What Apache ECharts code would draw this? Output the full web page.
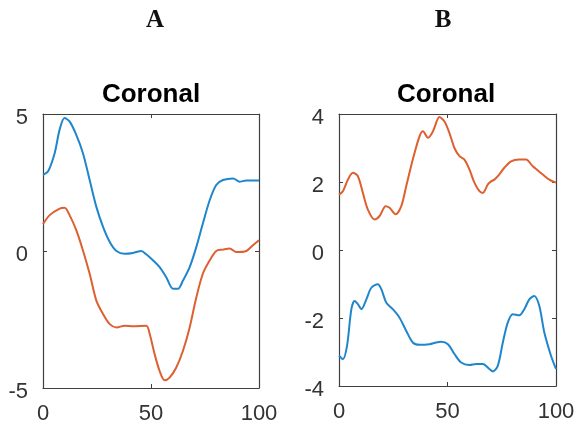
<!DOCTYPE html>
<html>
<head>
<meta charset="utf-8">
<script src="https://cdn.jsdelivr.net/npm/echarts@6/dist/echarts.min.js"></script>
<style>
  html, body { margin: 0; padding: 0; background: #fff; }
  #chart { width: 583px; height: 426px; }
</style>
</head>
<body>
<div id="chart"></div>
<script>
// panel A
const aBlueX = [0, 2.3, 5.4, 7.7, 10, 12.3, 15.4, 18.5, 21.6, 24.7, 27.8, 30.9, 34, 37.8, 41.7, 45.5, 47.8, 50.9, 54, 57, 60.2, 62.5, 64.8, 67.9, 71, 74, 77.2, 80.2, 83.3, 88, 91, 94.1, 100];
const aBlueY = [2.78, 2.9, 3.57, 4.43, 4.85, 4.73, 4.24, 3.57, 2.59, 1.61, 0.88, 0.33, 0, -0.1, -0.07, 0, -0.12, -0.34, -0.59, -0.95, -1.38, -1.38, -1.08, -0.59, 0.15, 1.0, 1.86, 2.41, 2.59, 2.65, 2.53, 2.57, 2.57];
const aOrangeX = [0, 3.1, 7.7, 10, 12.3, 15.4, 18.5, 21.6, 24.7, 27.8, 30.9, 34, 37.8, 41.7, 47.8, 49.4, 51.7, 54, 56.3, 58.6, 61.7, 64.8, 67.9, 71, 74, 77.2, 80.2, 83.3, 86.4, 89.5, 94.1, 97.2, 100];
const aOrangeY = [0.98, 1.31, 1.55, 1.58, 1.31, 0.76, 0.02, -0.83, -1.81, -2.3, -2.67, -2.79, -2.73, -2.75, -2.73, -3.03, -3.77, -4.38, -4.72, -4.62, -4.25, -3.64, -2.79, -1.69, -0.83, -0.34, 0, 0.05, 0.09, -0.04, 0, 0.21, 0.39];

// panel B
const bOrangeX = [0, 1.8, 4.1, 6.4, 8.7, 11, 13.3, 16.4, 18.7, 21.5, 23.3, 26.1, 28.7, 31, 34, 37.1, 38.7, 41, 43.3, 46.3, 48.6, 50.9, 53.2, 55.5, 57.8, 60.1, 62.4, 64.7, 66.3, 68.6, 70.1, 71.6, 73.2, 76.2, 79.3, 83.1, 86.2, 89.3, 93.9, 96.9, 100];
const bOrangeY = [1.63, 1.73, 2.07, 2.27, 2.17, 1.68, 1.19, 0.9, 1.0, 1.29, 1.24, 1.05, 1.29, 1.88, 2.66, 3.34, 3.49, 3.3, 3.49, 3.91, 3.78, 3.44, 3.0, 2.76, 2.66, 2.37, 1.98, 1.73, 1.68, 1.93, 2.02, 2.07, 2.17, 2.42, 2.61, 2.66, 2.66, 2.46, 2.22, 2.07, 1.98];
const bBlueX = [0, 1.8, 3.7, 5.7, 7.2, 8.7, 10.3, 12.6, 14.9, 17.9, 19.5, 21.8, 24.8, 27.9, 31, 34, 37.1, 41.7, 44.8, 47.1, 50.2, 53.2, 56.3, 60.1, 63.2, 66.3, 69.3, 70.9, 73.2, 75.5, 77.8, 80.1, 83.1, 85.4, 87.7, 90, 92.3, 94.6, 97.7, 100];
const bBlueY = [-3.11, -3.21, -2.82, -1.74, -1.5, -1.59, -1.74, -1.45, -1.11, -1.01, -1.15, -1.55, -1.74, -1.99, -2.38, -2.72, -2.79, -2.77, -2.72, -2.7, -2.77, -3.06, -3.31, -3.38, -3.35, -3.35, -3.5, -3.57, -3.4, -2.72, -2.13, -1.89, -1.92, -1.74, -1.45, -1.35, -1.64, -2.42, -3.11, -3.5];

const aLimits = [-5, 5];
const bLimits = [-4, 4];

const BLUE = '#1f86cc';
const ORANGE = '#dd6030';
const AXIS = '#404040';
const LABEL = '#333';

const chart = echarts.init(document.getElementById('chart'));

const pairs = (xs, ys) => xs.map((x, i) => [x, ys[i]]);

function xAxis(grid, pos, labels) {
  return {
    type: 'value', gridIndex: grid, position: pos, min: 0, max: 100, interval: 50,
    axisLine: { show: true, onZero: false, lineStyle: { color: AXIS, width: 1.2 } },
    axisTick: { show: true, inside: true, length: 4, lineStyle: { color: AXIS } },
    axisLabel: { show: labels, color: LABEL, fontSize: 22, fontFamily: 'Liberation Sans', margin: 15 },
    splitLine: { show: false }
  };
}

// y labels sit a few pixels below their tick in the original
function yAxis(grid, pos, lim, step, labels) {
  return {
    type: 'value', gridIndex: grid, position: pos, min: lim[0], max: lim[1], interval: step,
    axisLine: { show: true, onZero: false, lineStyle: { color: AXIS, width: 1.2 } },
    axisTick: { show: true, inside: true, length: 4, lineStyle: { color: AXIS } },
    axisLabel: {
      show: labels, margin: 15,
      formatter: '{v|{value}}',
      rich: { v: { color: LABEL, fontSize: 22, fontFamily: 'Liberation Sans', padding: [7, 0, 0, 0] } }
    },
    splitLine: { show: false }
  };
}

function line(data, color, xi, yi) {
  return {
    type: 'line', data: data, xAxisIndex: xi, yAxisIndex: yi,
    smooth: 0.3, symbol: 'none',
    lineStyle: { color: color, width: 2 }
  };
}

const panelTitle = { fontFamily: 'Liberation Serif', fontWeight: 'bold', fontSize: 25, color: '#111' };
const plotTitle = { fontFamily: 'Liberation Sans', fontWeight: 'bold', fontSize: 26, color: '#000' };

chart.setOption({
  backgroundColor: '#fff',
  animation: false,
  title: [
    { text: 'A', left: 150, top: 3, textAlign: 'center', textStyle: panelTitle },
    { text: 'B', left: 438, top: 3, textAlign: 'center', textStyle: panelTitle },
    { text: 'Coronal', left: 146, top: 77, textAlign: 'center', textStyle: plotTitle },
    { text: 'Coronal', left: 441, top: 77, textAlign: 'center', textStyle: plotTitle }
  ],
  grid: [
    { left: 43, top: 114, width: 216, height: 274 },
    { left: 339, top: 114, width: 217, height: 272 }
  ],
  xAxis: [
    xAxis(0, 'bottom', true), xAxis(0, 'top', false),
    xAxis(1, 'bottom', true), xAxis(1, 'top', false)
  ],
  yAxis: [
    yAxis(0, 'left', aLimits, 5, true), yAxis(0, 'right', aLimits, 5, false),
    yAxis(1, 'left', bLimits, 2, true), yAxis(1, 'right', bLimits, 2, false)
  ],
  series: [
    line(pairs(aBlueX, aBlueY), BLUE, 0, 0),
    line(pairs(aOrangeX, aOrangeY), ORANGE, 0, 0),
    line(pairs(bOrangeX, bOrangeY), ORANGE, 2, 2),
    line(pairs(bBlueX, bBlueY), BLUE, 2, 2)
  ]
});
</script>
</body>
</html>
